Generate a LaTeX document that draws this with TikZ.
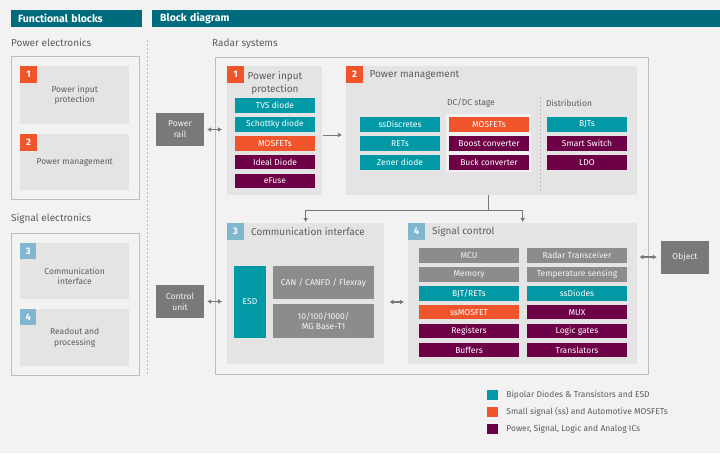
\documentclass[tikz,border=0pt]{standalone}
\usepackage{fontspec}
\setmainfont{Fira Sans}
\usetikzlibrary{positioning,arrows.meta}
\definecolor{hdr}{HTML}{006B7D}
\definecolor{bipolar}{HTML}{0099A5}
\definecolor{mosorange}{HTML}{F0542A}
\definecolor{icpurple}{HTML}{6E0047}
\definecolor{chipgray}{HTML}{8C8C8C}
\definecolor{unitgray}{HTML}{797979}
\definecolor{badgeblue}{HTML}{80B7CF}
\definecolor{blockfill}{HTML}{E4E4E4}
\definecolor{pagefill}{HTML}{F2F2F2}
\definecolor{framegray}{HTML}{BDBDBD}
\definecolor{txtgray}{HTML}{5C5C5C}
\definecolor{arrowgray}{HTML}{777777}
\newcommand{\chipfont}{\fontsize{8.5}{10}\selectfont}
\tikzset{node distance=4pt,
	header/.style={fill=hdr, text=white, anchor=north west, minimum height=17pt, inner xsep=7pt, inner ysep=0pt, align=left, font=\bfseries\fontsize{10.5}{11}\selectfont, text width=#1},
	frame/.style={draw=framegray, line width=0.8pt, anchor=north west, inner sep=0pt},
	blk/.style={fill=blockfill, anchor=north west, inner sep=0pt, align=center, text=txtgray, font=\fontsize{8.5}{10.5}\selectfont},
	badge/.style={anchor=north west, minimum size=17pt, inner sep=0pt, text=white, font=\bfseries\fontsize{9.5}{10}\selectfont},
	ttl/.style={text=txtgray, inner sep=0pt, font=\fontsize{10}{13}\selectfont},
	sub/.style={text=txtgray, inner sep=0pt, font=\fontsize{8.5}{10.5}\selectfont},
	chip/.style={minimum width=80pt, minimum height=14.5pt, inner sep=0pt, text=white, font=\chipfont},
	bip/.style={chip, fill=bipolar},
	mos/.style={chip, fill=mosorange},
	ic/.style={chip, fill=icpurple},
	gen/.style={chip, fill=chipgray, text=white!92!gray},
	unit/.style={fill=unitgray, text=white!92!gray, minimum width=48pt, minimum height=33pt, inner sep=0pt, align=center, font=\fontsize{8.5}{11}\selectfont},
	key/.style={minimum width=11pt, minimum height=10pt, inner sep=0pt},
	keytext/.style={text=txtgray, inner sep=0pt, font=\fontsize{8.5}{10}\selectfont},
	link/.style={draw=arrowgray, line width=1.1pt, {Latex[length=4pt,width=5pt]}-{Latex[length=4pt,width=5pt]}},
	feed/.style={draw=arrowgray, line width=1pt, -{Latex[length=4pt,width=5pt]}}
}
\begin{document}
\begin{tikzpicture}[x=1pt, y=-1pt]
	\fill[pagefill] (0,0) rectangle (720,453);
	\useasboundingbox (0,0) rectangle (720,453);

	\node[header=117pt] (hfun) at (11,10) {Functional blocks};
	\node[header=552pt, inner xsep=8pt] (hblk) at (152,10) {Block diagram};
	\draw[framegray, line width=1pt, dash pattern=on 2pt off 2pt] (147,40) -- (147,375);

	% functional blocks
	\node[ttl, anchor=west] (tpow) at (11,43) {Power electronics};
	\node[frame, minimum width=128pt, minimum height=143pt] (fpow) at (11,56) {};
	\node[blk, minimum width=109pt, minimum height=58pt] (fpip) at (20,66) {Power input\\protection};
	\node[badge, fill=mosorange] at (fpip.north west) {1};
	\node[blk, minimum width=109pt, minimum height=56pt] (fpm) at (20,134) {Power management};
	\node[badge, fill=mosorange] at (fpm.north west) {2};

	\node[ttl, anchor=west] (tsig) at (11,219) {Signal electronics};
	\node[frame, minimum width=128pt, minimum height=142pt] (fsig) at (11,233) {};
	\node[blk, minimum width=109pt, minimum height=56pt] (fcom) at (20,243) {};
	\node[sub, align=center] at ([yshift=-5pt]fcom.center) {Communication\\interface};
	\node[badge, fill=badgeblue, minimum size=16pt] at (fcom.north west) {3};
	\node[blk, minimum width=109pt, minimum height=57pt] (fread) at (20,309) {Readout and\\processing};
	\node[badge, fill=badgeblue, minimum size=16pt] at (fread.north west) {4};

	% block diagram
	\node[ttl, anchor=west] (trad) at (212,44) {Radar systems};
	\node[frame, minimum width=433pt, minimum height=317pt] (radar) at (215,57) {};
	\node[unit] (rail) at (180,129.5) {Power\\rail};
	\node[unit] (ctrl) at (180,301.5) {Control\\unit};
	\node[unit] (obj) at (685,257) {Object};

	% 1 power input protection
	\node[blk, minimum width=95pt, minimum height=129pt] (pip) at (227,66) {};
	\node[badge, fill=mosorange] (b1) at (pip.north west) {1};
	\node[ttl, anchor=north, align=center] at (275,71) {Power input\\protection};
	\node[bip, anchor=north] (tvs) at (275,98) {TVS diode};
	\node[bip, below=of tvs] (schottky) {Schottky diode};
	\node[mos, below=of schottky] (pipmos) {MOSFETs};
	\node[ic, below=of pipmos] (ideal) {Ideal Diode};
	\node[ic, below=of ideal] (efuse) {eFuse};

	% 2 power management
	\node[blk, minimum width=291pt, minimum height=129pt] (pm) at (346,66) {};
	\node[badge, fill=mosorange] (b2) at (pm.north west) {2};
	\node[ttl, right=6pt of b2] {Power management};
	\node[sub] at (471,103) {DC/DC stage};
	\node[sub] at (569,103) {Distribution};
	\draw[framegray, line width=0.8pt, dash pattern=on 2pt off 2pt] (540,97) -- (540,191);
	\node[frame, draw=white!80!gray, fill=white!50!blockfill, line width=1pt, minimum width=86pt, minimum height=59pt] (dcdc) at (445,113) {};
	\node[bip, anchor=north] (ssdis) at (400,117) {ssDiscretes};
	\node[bip, below=of ssdis] (rets) {RETs};
	\node[bip, below=of rets] (zener) {Zener diode};
	\node[mos, anchor=north] (pmmos) at (489,117) {MOSFETs};
	\node[ic, below=of pmmos] (boost) {Boost converter};
	\node[ic, below=of boost] (buck) {Buck converter};
	\node[bip, anchor=north] (bjts) at (587,117) {BJTs};
	\node[ic, below=of bjts] (smart) {Smart Switch};
	\node[ic, below=of smart] (ldo) {LDO};

	% 3 communication interface
	\node[blk, minimum width=157pt, minimum height=141pt] (comm) at (227,223) {};
	\node[badge, fill=badgeblue, minimum size=16.5pt] (b3) at (comm.north west) {3};
	\node[ttl, right=7pt of b3] {Communication interface};
	\node[chip, fill=bipolar, minimum width=32pt, minimum height=72pt] (esd) at (250,302) {ESD};
	\node[gen, minimum width=101pt, minimum height=33pt] (can) at (323.5,282.5) {CAN / CANFD / Flexray};
	\node[gen, minimum width=101pt, minimum height=34pt, align=center] (eth) at (323.5,321) {10/100/1000/\\MG Base-T1};

	% 4 signal control
	\node[blk, minimum width=229pt, minimum height=141pt] (sig) at (408,223) {};
	\node[badge, fill=badgeblue, minimum size=16.5pt] (b4) at (sig.north west) {4};
	\node[ttl, right=7pt of b4] {Signal control};
	\node[gen, minimum width=100pt, anchor=north] (mcu) at (469,248) {MCU};
	\node[gen, minimum width=100pt, below=of mcu] (mem) {Memory};
	\node[bip, minimum width=100pt, below=of mem] (bjtret) {BJT/RETs};
	\node[mos, minimum width=100pt, below=of bjtret] (ssmos) {ssMOSFET};
	\node[ic, minimum width=100pt, below=of ssmos] (regs) {Registers};
	\node[ic, minimum width=100pt, below=of regs] (buf) {Buffers};
	\node[gen, minimum width=100pt, anchor=north] (trx) at (577,248) {Radar Transceiver};
	\node[gen, minimum width=100pt, below=of trx] (temp) {Temperature sensing};
	\node[bip, minimum width=100pt, below=of temp] (ssdio) {ssDiodes};
	\node[ic, minimum width=100pt, below=of ssdio] (mux) {MUX};
	\node[ic, minimum width=100pt, below=of mux] (logic) {Logic gates};
	\node[ic, minimum width=100pt, below=of logic] (trans) {Translators};

	% connectors
	\coordinate (pmin) at (342,135);
	\coordinate (split) at (488,210);
	\draw[link, shorten <=3pt, shorten >=5pt] (rail) -- (rail -| pip.west);
	\draw[link, shorten <=3pt, shorten >=5pt] (ctrl) -- (ctrl -| comm.west);
	\draw[link, shorten <=5pt, shorten >=4pt] (comm.east |- esd) -- (sig.west |- esd);
	\draw[link, shorten <=2pt, shorten >=4pt] (obj -| sig.east) -- (obj);
	\draw[feed, shorten <=1pt] (pip.east |- pmin) -- (pmin);
	\draw[arrowgray, line width=1pt] (pm.south -| split) -- (split);
	\draw[feed, shorten >=1pt] (split) -| (comm.north);
	\draw[feed, shorten >=1pt] (split) -| (sig.north);

	% legend
	\node[key, fill=bipolar] (k1) at (492.5,395) {};
	\node[key, fill=mosorange] (k2) at (492.5,412) {};
	\node[key, fill=icpurple] (k3) at (492.5,429) {};
	\node[keytext, right=8pt of k1] {Bipolar Diodes \& Transistors and ESD};
	\node[keytext, right=8pt of k2] {Small signal (ss) and Automotive MOSFETs};
	\node[keytext, right=8pt of k3] {Power, Signal, Logic and Analog ICs};
\end{tikzpicture}
\end{document}
